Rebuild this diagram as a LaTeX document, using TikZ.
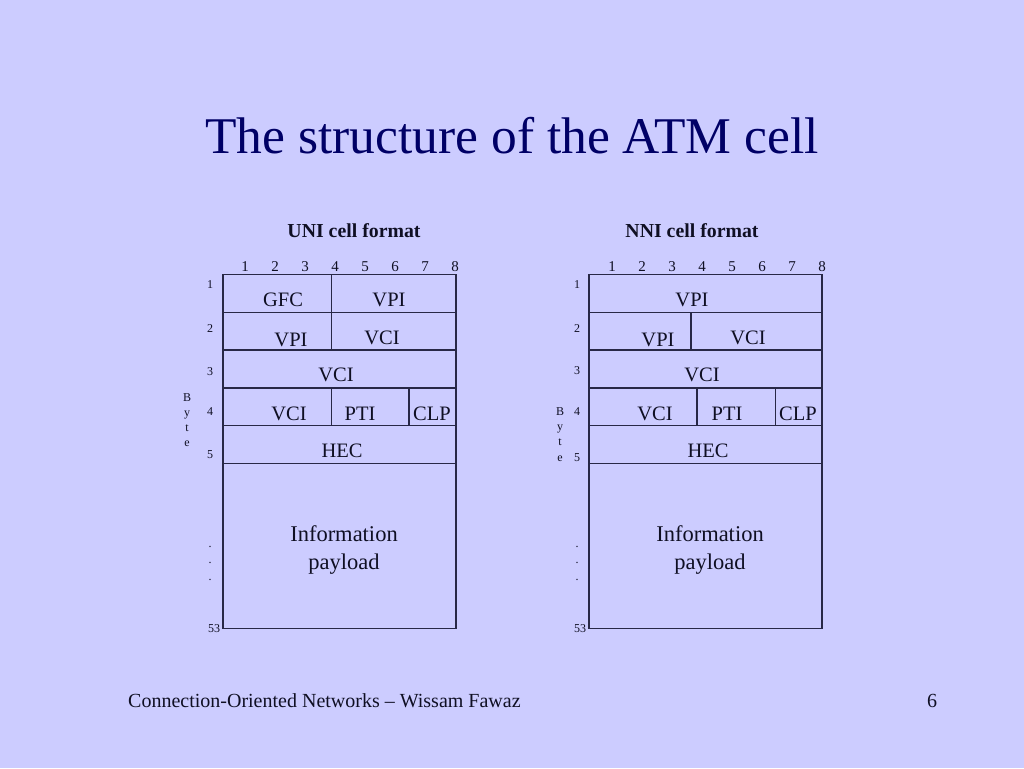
\documentclass[tikz,border=0pt]{standalone}
\usepackage{fontspec}
\setmainfont{Liberation Serif}
\definecolor{bg}{RGB}{204,204,255}
\definecolor{titlec}{RGB}{0,0,102}
\definecolor{linec}{RGB}{40,40,70}
\definecolor{txt}{RGB}{15,15,35}
\begin{document}
\begin{tikzpicture}[x=1pt,y=-1pt,
  cellline/.style={draw=linec,line width=1.4pt},
  field/.style={anchor=base,inner sep=0pt,text=txt,font=\fontsize{20.5}{20.5}\selectfont},
  payl/.style={anchor=base,inner sep=0pt,text=txt,font=\fontsize{22.5}{22.5}\selectfont},
  bitnum/.style={anchor=base,inner sep=0pt,text=txt,font=\fontsize{15}{15}\selectfont},
  rownum/.style={anchor=base,inner sep=0pt,text=txt,font=\fontsize{12}{12}\selectfont},
  head/.style={anchor=base,inner sep=0pt,text=txt,font=\bfseries\fontsize{19.8}{19.8}\selectfont},
  foot/.style={anchor=base,inner sep=0pt,text=txt,font=\fontsize{20}{20}\selectfont}]
\fill[bg] (0,0) rectangle (1024,768);
\useasboundingbox (0,0) rectangle (1024,768);
% title
\node[anchor=base,inner sep=0pt,text=titlec,font=\fontsize{51.5}{51.5}\selectfont] (title) at (512,153) {The structure of the ATM cell};
% ---------- UNI ----------
\node[head] (unihead) at (354,237.5) {UNI cell format};
\foreach \i in {1,...,8} {\node[bitnum] (ub\i) at ({215+30*\i},271) {\i};}
\draw[cellline] (223,274.5) rectangle (456,628.5);
\foreach \y in {312.5,350,387.8,425.5,463.3} {\draw[cellline] (223,\y) -- (456,\y);}
\draw[cellline] (331.5,274.5) -- (331.5,350);
\draw[cellline] (331.5,387.8) -- (331.5,425.5);
\draw[cellline] (409,387.8) -- (409,425.5);
\node[rownum] (ur1) at (210,288) {1};
\node[rownum] (ur2) at (210,332) {2};
\node[rownum] (ur3) at (210,375) {3};
\node[rownum] (ur4) at (210,415) {4};
\node[rownum] (ur5) at (210,458) {5};
\node[rownum] (ud1) at (210,547) {.};
\node[rownum] (ud2) at (210,563) {.};
\node[rownum] (ud3) at (210,580) {.};
\node[rownum] (ur53) at (214,632) {53};
\node[rownum] (uB) at (187,401) {B};
\node[rownum] (uy) at (187,416) {y};
\node[rownum] (ut) at (187,431) {t};
\node[rownum] (ue) at (187,446) {e};
\node[field] (ugfc) at (283,306.5) {GFC};
\node[field] (uvpi1) at (389,306.5) {VPI};
\node[field] (uvpi2) at (291,346.5) {VPI};
\node[field] (uvci2) at (382,344) {VCI};
\node[field] (uvci3) at (336,381.5) {VCI};
\node[field] (uvci4) at (289,420) {VCI};
\node[field] (upti) at (360,420) {PTI};
\node[field] (uclp) at (432,420) {CLP};
\node[field] (uhec) at (342,457.5) {HEC};
\node[payl] (uinfo) at (344,541.5) {Information};
\node[payl] (upay) at (344,569) {payload};
% ---------- NNI ----------
\node[head] (nnihead) at (692,237) {NNI cell format};
\foreach \i in {1,...,8} {\node[bitnum] (nb\i) at ({582+30*\i},271) {\i};}
\draw[cellline] (589,274.5) rectangle (822,628.5);
\foreach \y in {312.5,350,387.8,425.5,463.3} {\draw[cellline] (589,\y) -- (822,\y);}
\draw[cellline] (691,312.5) -- (691,350);
\draw[cellline] (697,387.8) -- (697,425.5);
\draw[cellline] (775.5,387.8) -- (775.5,425.5);
\node[rownum] (nr1) at (577,288) {1};
\node[rownum] (nr2) at (577,332) {2};
\node[rownum] (nr3) at (577,374.5) {3};
\node[rownum] (nr4) at (577,415) {4};
\node[rownum] (nr5) at (577,461) {5};
\node[rownum] (nd1) at (577,547) {.};
\node[rownum] (nd2) at (577,563) {.};
\node[rownum] (nd3) at (577,580) {.};
\node[rownum] (nr53) at (580,632) {53};
\node[rownum] (nB) at (560,415) {B};
\node[rownum] (ny) at (560,430) {y};
\node[rownum] (nt) at (560,445) {t};
\node[rownum] (ne) at (560,461) {e};
\node[field] (nvpi1) at (692,306.5) {VPI};
\node[field] (nvpi2) at (658,346.5) {VPI};
\node[field] (nvci2) at (748,344) {VCI};
\node[field] (nvci3) at (702,381.5) {VCI};
\node[field] (nvci4) at (655,420) {VCI};
\node[field] (npti) at (727,420) {PTI};
\node[field] (nclp) at (798,420) {CLP};
\node[field] (nhec) at (708,457.5) {HEC};
\node[payl] (ninfo) at (710,541.5) {Information};
\node[payl] (npay) at (710,569) {payload};
% footer
\node[foot,anchor=base west] (footl) at (128,707) {Connection-Oriented Networks – Wissam Fawaz};
\node[foot] (footr) at (932,707) {6};
\end{tikzpicture}
\end{document}
